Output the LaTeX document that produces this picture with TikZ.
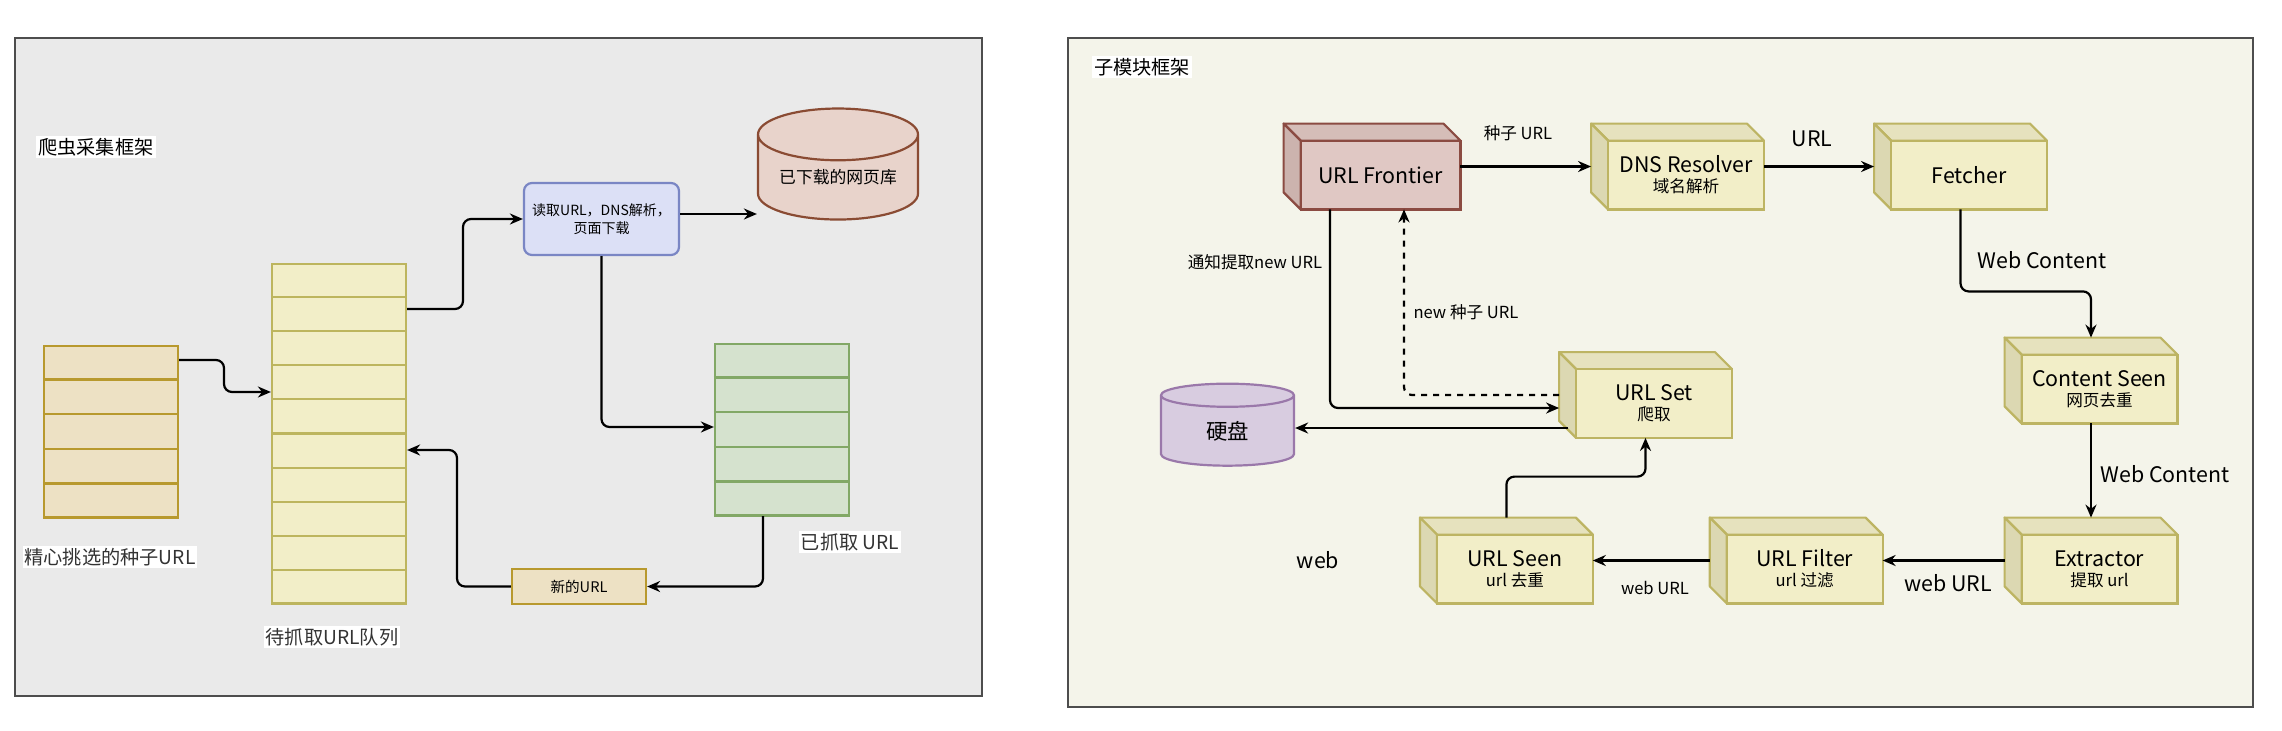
\documentclass[tikz,border=0pt]{standalone}
\usepackage{fontspec}
\setmainfont{Noto Sans CJK SC}
\usetikzlibrary{positioning,shapes.geometric,arrows.meta,calc}

\definecolor{leftbg}{HTML}{EAEAEA}
\definecolor{rightbg}{HTML}{F4F4EA}
\definecolor{frameline}{HTML}{4D4D4D}
\definecolor{seedfill}{HTML}{EDE1C4}
\definecolor{seedline}{HTML}{B8992E}
\definecolor{queuefill}{HTML}{F2EEC8}
\definecolor{queueline}{HTML}{BDB55E}
\definecolor{donefill}{HTML}{D5E2CE}
\definecolor{doneline}{HTML}{82A866}
\definecolor{procfill}{HTML}{DCE0F6}
\definecolor{procline}{HTML}{7A86C4}
\definecolor{pagesfill}{HTML}{E8D3CB}
\definecolor{pagesline}{HTML}{8A4B33}
\definecolor{diskfill}{HTML}{D8CCE0}
\definecolor{diskline}{HTML}{9A78AA}
\definecolor{sandfront}{HTML}{F2EEC8}
\definecolor{sandtop}{HTML}{E6E2BE}
\definecolor{sandside}{HTML}{DCD8B2}
\definecolor{sandline}{HTML}{BDB463}
\definecolor{rosefront}{HTML}{E0C8C4}
\definecolor{rosetop}{HTML}{D5BDB8}
\definecolor{roseside}{HTML}{CCB3AE}
\definecolor{roseline}{HTML}{8B4B42}

\newcommand{\cubefont}{\fontsize{10.7}{10}\selectfont}
\newcommand{\subfont}{\fontsize{8.3}{10}\selectfont}
\newcommand{\capfont}{\fontsize{9.6}{11}\selectfont}
\newcommand{\procfont}{\fontsize{7}{9}\selectfont}

% top and side of a box drawn as a cube, then its front
\newcommand{\cubefaces}[2]{%
  \draw[draw=#2line, fill=#2top, line width=1.1pt, line join=round]
    (#1.north west) -- ($(#1.north east)+(-17,0)$) -- ($(#1.north east)+(0,17)$)
    -- ($(#1.north west)+(17,17)$) -- cycle;
  \draw[draw=#2line, fill=#2side, line width=1.1pt, line join=round]
    (#1.north west) -- ($(#1.north west)+(17,17)$) -- ($(#1.south west)+(17,0)$)
    -- ($(#1.south west)+(0,-17)$) -- cycle;
  \draw[draw=#2line, fill=#2front, line width=1.1pt]
    ($(#1.north west)+(17,17)$) rectangle (#1.south east);
}

\begin{document}
\begin{tikzpicture}[%
    x=0.5pt, y=-0.5pt,
    >={Stealth[length=6.5pt,width=5.5pt]},
    link/.style={->, line width=1.1pt, rounded corners=4pt},
    panel/.style={draw=frameline, line width=0.8pt},
    title/.style={fill=white, inner sep=1pt, font=\capfont},
    caption/.style={fill=white, inner sep=1pt, text=black!80, font=\capfont},
    stack/.style={draw, line width=1.1pt, minimum width=67pt, inner sep=0pt},
    proc/.style={draw=procline, fill=procfill, rounded corners=4pt, line width=1.1pt,
      minimum width=77.5pt, minimum height=36pt, align=center, font=\procfont, inner sep=1pt},
    store/.style={cylinder, shape border rotate=90, draw, line width=1.1pt, inner sep=0pt},
    cube/.style={minimum width=86pt, minimum height=42.5pt, inner sep=0pt},
    cubetext/.style={align=center, font=\cubefont, inner sep=0pt},
    edgelabel/.style={inner sep=1pt, font=\subfont},
    biglabel/.style={inner sep=1pt, font=\cubefont}
  ]
    \useasboundingbox (0,0) rectangle (2282,730);

    % the two frames
    \draw[panel, fill=leftbg]  (15,38)   rectangle (982,696);
    \draw[panel, fill=rightbg] (1068,38) rectangle (2253,707);

    % --- crawler ---
    \node[title] (lefttitle) at (96,147) {爬虫采集框架};

    \node[stack, fill=seedfill,  draw=seedline,  minimum height=85.5pt]  (seeds) at (111,431.5) {};
    \node[stack, fill=queuefill, draw=queueline, minimum height=169.5pt] (queue) at (339,433.5) {};
    \node[stack, fill=donefill,  draw=doneline,  minimum height=85.5pt]  (done)  at (782,429.5) {};
    \foreach \s/\k/\c in {seeds/5/seedline, queue/10/queueline, done/5/doneline}
      \foreach \i in {1,...,\k}
        \draw[\c, line width=1.1pt] ($(\s.north west)!\i/\k!(\s.south west)$)
          -- ($(\s.north east)!\i/\k!(\s.south east)$);

    \node[proc] (reader) at (601.5,219) {读取URL，DNS解析，\\页面下载};
    \node[store, fill=pagesfill, draw=pagesline, aspect=0.44,
      minimum width=80pt, minimum height=55.5pt, font=\fontsize{8.4}{10}\selectfont]
      (pages) at (838,177.5) {已下载的网页库};
    \node[draw=seedline, fill=seedfill, line width=1.1pt, minimum width=67pt,
      minimum height=17.5pt, inner sep=0pt, font=\fontsize{7.3}{9}\selectfont]
      (newurl) at (579,586.5) {新的URL};

    \node[caption] (seedcap)  at (110,557) {精心挑选的种子URL};
    \node[caption] (queuecap) at (332,637) {待抓取URL队列};
    \node[caption] (donecap)  at (850,542) {已抓取 URL};

    \draw[link] (seeds.east |- 0,360) -| (224,392) -- (queue.west |- 0,392);
    \draw[link] (queue.east |- 0,309) -- (463,309) |- (reader.west);
    \draw[link] (reader.east |- 0,214) -- (pages.west |- 0,214);
    \draw[link] (reader.south) |- (done.west |- 0,427);
    \draw[link] (done.south -| 763,0) |- (newurl.east);
    \draw[link] (newurl.west) -| (457,450) -- (queue.east |- 0,450);

    % --- sub modules ---
    \node[title] (righttitle) at (1142,67) {子模块框架};

    \node[cube, minimum width=88pt] (frontier) at (1372,166.5) {};
    \node[cube] (dns)       at (1677.5,166.5) {};
    \node[cube] (fetcher)   at (1960.5,166.5) {};
    \node[cube] (cseen)     at (2091,380.5) {};
    \node[cube] (extractor) at (2091,560.5) {};
    \node[cube] (filter)    [left=61pt of extractor] {};
    \node[cube] (useen)     [left=58.5pt of filter] {};
    \node[cube] (urlset)    at (1645.5,395) {};

    \cubefaces{frontier}{rose}
    \foreach \n in {dns,fetcher,cseen,extractor,filter,useen,urlset}
      {\cubefaces{\n}{sand}}

    \node[cubetext] (frontier-t)  at ($(frontier.center)+(8.5,8.5)$)  {URL Frontier};
    \node[cubetext] (dns-t)       at ($(dns.center)+(8.5,8.5)$)       {DNS Resolver\\{\subfont 域名解析}};
    \node[cubetext] (fetcher-t)   at ($(fetcher.center)+(8.5,8.5)$)   {Fetcher};
    \node[cubetext] (cseen-t)     at ($(cseen.center)+(8.5,8.5)$)     {Content Seen\\{\subfont 网页去重}};
    \node[cubetext] (extractor-t) at ($(extractor.center)+(8.5,8.5)$) {Extractor\\{\subfont 提取 url}};
    \node[cubetext] (filter-t)    at ($(filter.center)+(8.5,8.5)$)    {URL Filter\\{\subfont url 过滤}};
    \node[cubetext] (useen-t)     at ($(useen.center)+(8.5,8.5)$)     {URL Seen\\{\subfont url 去重}};
    \node[cubetext] (urlset-t)    at ($(urlset.center)+(8.5,8.5)$)    {URL Set\\{\subfont 爬取}};

    \node[store, fill=diskfill, draw=diskline, aspect=0.54,
      minimum width=66.5pt, minimum height=41pt, font=\cubefont]
      (disk) at (1227.5,431) {硬盘};

    \draw[link] (frontier) -- (dns);
    \draw[link] (dns) -- (fetcher);
    \draw[link] (fetcher.south) -- ++(0,82) -| (cseen.north);
    \draw[link] (cseen) -- (extractor);
    \draw[link] (extractor) -- (filter);
    \draw[link] (filter) -- (useen);
    \draw[link] (useen.north) -- ++(0,-41) -| (urlset.south);
    \draw[link] ($(frontier.south)+(-42,0)$) |- ($(urlset.west)+(0,13)$);
    \draw[link, dashed] (urlset.west) -| ($(frontier.south)+(32,0)$);
    \draw[link] ($(urlset.west)+(9,33)$) -- (disk.east |- 0,428);

    \node[edgelabel] (seedurl)   at (1518,133) {种子 URL};
    \node[biglabel]  (plainurl)  at (1812,139) {URL};
    \node[biglabel]  (content1)  at (2042,260) {Web Content};
    \node[biglabel]  (content2)  at (2165,474) {Web Content};
    \node[biglabel]  (weburl1)   at (1948,583) {web URL};
    \node[edgelabel] (weburl2)   at (1655,588) {web URL};
    \node[biglabel]  (web)       at (1318,560) {web};
    \node[edgelabel] (notify)    at (1255,262) {通知提取new URL};
    \node[edgelabel] (newseed)   at (1466,312) {new 种子 URL};
  \end{tikzpicture}
\end{document}
